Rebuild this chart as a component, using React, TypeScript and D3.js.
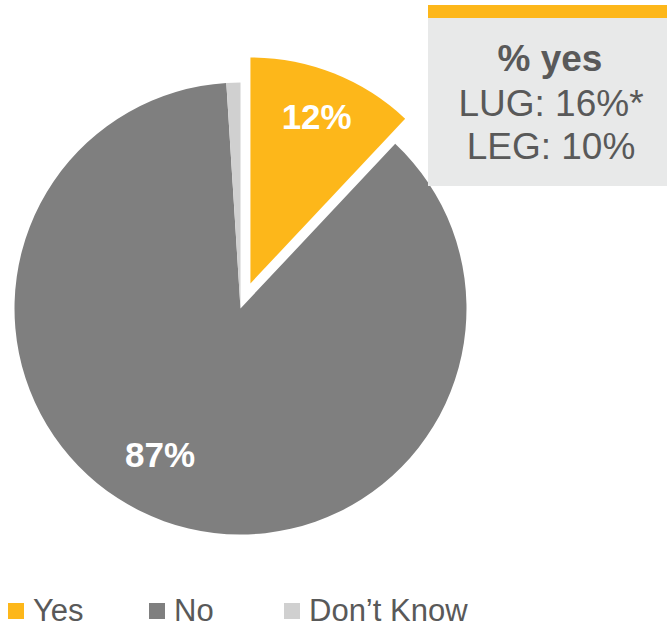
import React from "react";
import * as d3 from "d3";

const categories = ["Yes", "No", "Don’t Know"];
const values = [12, 87, 1];
const labels = ["12%", "87%", ""];
const calloutTitle = "% yes";
const calloutLines = ["LUG: 16%*", "LEG: 10%"];

const colors = ["#FDB71A", "#7F7F7F", "#D0D0D0"];

const W = 667;
const H = 628;
const cx = 240.5;
const cy = 308.5;
const R = 226;
const explode = [27, 0, 0];
const labelR = [180, 167, 0];
const labelAngleNudge = [0, 9, 0];

export default function App() {
  const pie = d3.pie<number>().sort(null).value((d) => d);
  const arcs = pie(values);
  const arc = d3.arc<d3.PieArcDatum<number>>().innerRadius(0).outerRadius(R);
  const textColor = "#595959";
  const font = "'Liberation Sans', Arial, sans-serif";
  const legendX = [8, 149, 284];

  return (
    <svg
      width={W}
      height={H}
      style={{ position: "absolute", left: 0, top: 0, fontFamily: font }}
    >
      <rect x={0} y={0} width={W} height={H} fill="#fff" />
      {arcs.map((a, i) => {
        const mid = (a.startAngle + a.endAngle) / 2;
        const dx = explode[i] * Math.sin(mid);
        const dy = -explode[i] * Math.cos(mid);
        const la = mid + (labelAngleNudge[i] * Math.PI) / 180;
        const lx = labelR[i] * Math.sin(la);
        const ly = -labelR[i] * Math.cos(la);
        return (
          <g key={i} transform={`translate(${cx + dx},${cy + dy})`}>
            <path d={arc(a) || ""} fill={colors[i]} />
            {labels[i] && (
              <text
                x={lx}
                y={ly}
                textAnchor="middle"
                dominantBaseline="central"
                fill="#fff"
                fontWeight="bold"
                fontSize={35}
              >
                {labels[i]}
              </text>
            )}
          </g>
        );
      })}
      {/* callout */}
      <rect x={428} y={5} width={W - 428} height={181} fill="#E8E9E9" />
      <rect x={428} y={5} width={W - 428} height={13} fill="#FDB71A" />
      <text x={550} y={71} textAnchor="middle" fontSize={37} fontWeight="bold" fill={textColor}>
        {calloutTitle}
      </text>
      {calloutLines.map((t, i) => (
        <text key={i} x={551} y={116 + i * 43} textAnchor="middle" fontSize={37} fill={textColor}>
          {t}
        </text>
      ))}
      {/* legend */}
      {categories.map((c, i) => (
        <g key={c}>
          <rect x={legendX[i]} y={603} width={16} height={16} fill={colors[i]} />
          <text x={legendX[i] + 25} y={621} fontSize={31} fill={textColor}>
            {c}
          </text>
        </g>
      ))}
    </svg>
  );
}
